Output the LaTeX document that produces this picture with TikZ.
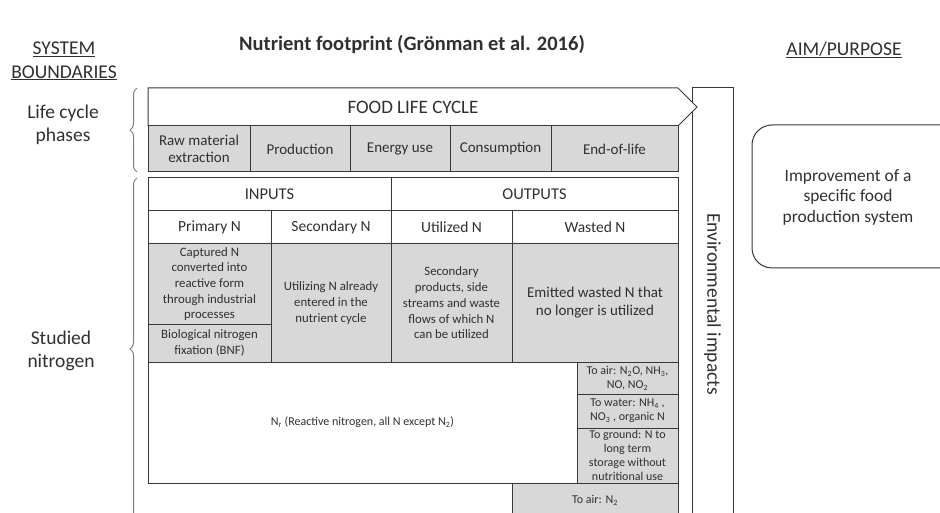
\documentclass[tikz,border=0pt]{standalone}
\usepackage{fontspec}
\setmainfont{Carlito}
\usetikzlibrary{decorations.pathreplacing}
\definecolor{txt}{HTML}{303030}
\definecolor{ln}{HTML}{383838}
\definecolor{shade}{HTML}{D8D8D8}
\definecolor{brc}{HTML}{808080}
\begin{document}
\begin{tikzpicture}[x=1pt,y=-1pt,
  cell/.style={draw=ln, line width=1pt, inner sep=1pt, align=center, text=txt, font=\fontsize{15.5}{18}\selectfont},
  shaded/.style={cell, fill=shade},
  phase/.style={shaded, font=\fontsize{15}{17.5}\selectfont},
  small/.style={font=\fontsize{12.8}{15.7}\selectfont},
  tiny/.style={font=\fontsize{12}{14}\selectfont},
  sidelbl/.style={align=center, text=txt, font=\fontsize{19.5}{23.5}\selectfont},
  bracestyle/.style={draw=brc, line width=1pt, decorate, decoration={brace, amplitude=7pt}}
]
\useasboundingbox (0,0) rectangle (940,513);

% title and headings
\node[text=txt, font=\bfseries\fontsize{20.5}{24}\selectfont] (title) at (412,45) {Nutrient footprint (Grönman et al. 2016)};
\node[sidelbl] (sysb) at (64,61) {\underline{SYSTEM}\\\underline{BOUNDARIES}};
\node[sidelbl] (aim) at (844,50) {\underline{AIM/PURPOSE}};
\node[sidelbl] (lcp) at (63,125) {Life cycle\\phases};
\node[sidelbl] (stn) at (61,351) {Studied\\nitrogen};

% braces
\coordinate (b1top) at (137,88);
\coordinate (b1bot) at (137,172);
\coordinate (b2top) at (137,178);
\coordinate (b2bot) at (137,520);
\draw[bracestyle] (b1bot) -- (b1top);
\draw[bracestyle] (b2bot) -- (b2top);

% environmental impacts
\node[cell, minimum width=41, minimum height=432] (env) at (712.5,304) {};
\node[text=txt, rotate=-90, font=\fontsize{19.5}{23}\selectfont] (envt) at (712.5,304) {Environmental impacts};

% food life cycle arrow
\draw[draw=ln, line width=1pt, fill=white] (148,88) -- (678,88) -- (697,107) -- (678,126) -- (148,126) -- cycle;
\node[text=txt, font=\fontsize{19}{22}\selectfont] (flc) at (413,107) {FOOD LIFE CYCLE};

% phases
\node[phase, minimum width=102, minimum height=46] (raw) at (199,149) {Raw material\\extraction};
\node[phase, minimum width=100, minimum height=46] (prod) at (300,149) {Production};
\node[phase, minimum width=100, minimum height=46] (energy) at (400,149) {Energy use};
\node[phase, minimum width=101, minimum height=46] (cons) at (500.5,149) {Consumption};
\node[phase, minimum width=127, minimum height=46] (eol) at (614.5,149) {End-of-life};

% table headers
\node[cell, font=\fontsize{16.5}{19}\selectfont, minimum width=243, minimum height=33] (inputs) at (269.5,194.5) {INPUTS};
\node[cell, font=\fontsize{16.5}{19}\selectfont, minimum width=287, minimum height=33] (outputs) at (534.5,194.5) {OUTPUTS};
\node[cell, minimum width=123, minimum height=33] (primary) at (209.5,227.5) {Primary N};
\node[cell, minimum width=120, minimum height=33] (secondary) at (331,227.5) {Secondary N};
\node[cell, minimum width=121, minimum height=33] (utilized) at (451.5,227.5) {Utilized N};
\node[cell, minimum width=166, minimum height=33] (wasted) at (595,227.5) {Wasted N};

% descriptions
\node[shaded, small, minimum width=123, minimum height=80] (captured) at (209.5,284) {Captured N\\converted into\\reactive form\\through industrial\\processes};
\node[shaded, small, minimum width=123, minimum height=38] (bnf) at (209.5,343) {Biological nitrogen\\fixation (BNF)};
\node[shaded, small, minimum width=120, minimum height=118] (secdesc) at (331,303) {Utilizing N already\\entered in the\\nutrient cycle};
\node[shaded, small, minimum width=121, minimum height=118] (utildesc) at (451.5,303) {Secondary\\products, side\\streams and waste\\flows of which N\\can be utilized};
\node[shaded, font=\fontsize{15}{18}\selectfont, minimum width=166, minimum height=118] (wastedesc) at (595,303) {Emitted wasted N that\\no longer is utilized};

% reactive nitrogen
\node[cell, tiny, minimum width=429, minimum height=121] (nr) at (362.5,422.5) {N\textsubscript{r} (Reactive nitrogen, all N except N\textsubscript{2})};
\node[shaded, tiny, minimum width=101, minimum height=32] (toair) at (627.5,378) {To air: N\textsubscript{2}O, NH\textsubscript{3},\\NO, NO\textsubscript{2}};
\node[shaded, tiny, minimum width=101, minimum height=34] (towater) at (627.5,411) {To water: NH\textsubscript{4} ,\\NO\textsubscript{3} , organic N};
\node[shaded, tiny, minimum width=101, minimum height=55] (toground) at (627.5,455.5) {To ground: N to\\long term\\storage without\\nutritional use};
\node[shaded, tiny, minimum width=166, minimum height=34] (toairn) at (595,500) {To air: N\textsubscript{2}};

% aim box
\node[draw=ln, line width=1pt, rounded corners=20pt, minimum width=208, minimum height=143] (aimbox) at (856,196.5) {};
\node[text=txt, align=center, font=\fontsize{17.4}{20.5}\selectfont] (aimt) at (848,197) {Improvement of a\\specific food\\production system};
\end{tikzpicture}
\end{document}
